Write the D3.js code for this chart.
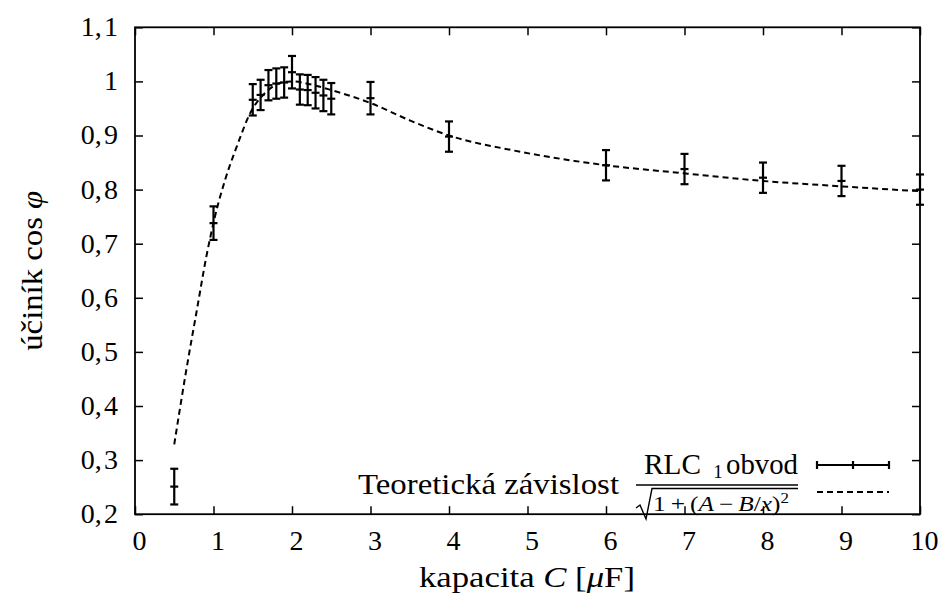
<!DOCTYPE html>
<html>
<head>
<meta charset="utf-8">
<script src="https://cdn.jsdelivr.net/npm/d3@7"></script>
<style>
  body { margin: 0; background: #fff; }
  svg text { font-family: "Liberation Serif", "Times New Roman", serif; fill: #000; }
</style>
</head>
<body>
<svg id="chart" width="945" height="598"></svg>
<script>
// measured points: capacitance [uF], power factor, error
const capacity = [0.5, 1, 1.5, 1.6, 1.7, 1.8, 1.9, 2.0, 2.1, 2.2, 2.3, 2.4, 2.5, 3, 4, 6, 7, 8, 9, 10];
const cosPhi = [0.251, 0.738, 0.966, 0.975, 0.993, 0.996, 0.998, 1.017, 0.985, 0.984, 0.979, 0.974, 0.968, 0.969, 0.898, 0.845, 0.838, 0.822, 0.816, 0.800];
const cosPhiErr = [0.033, 0.031, 0.029, 0.028, 0.028, 0.028, 0.028, 0.030, 0.028, 0.028, 0.029, 0.029, 0.029, 0.030, 0.028, 0.028, 0.028, 0.028, 0.028, 0.028];

// theoretical curve
const curveC = [0.5, 0.64, 0.79, 0.91, 1.02, 1.15, 1.3, 1.47, 1.66, 1.87, 2.0, 2.25, 2.5, 3, 3.5, 4, 4.8, 5.6, 6, 7, 8, 9, 10];
const curveCos = [0.329, 0.455, 0.579, 0.677, 0.751, 0.819, 0.881, 0.942, 0.979, 0.998, 1.0, 0.994, 0.984, 0.960, 0.928, 0.900, 0.873, 0.853, 0.845, 0.830, 0.816, 0.806, 0.797];

const xTicks = [0, 1, 2, 3, 4, 5, 6, 7, 8, 9, 10];
const yTicks = [0.2, 0.3, 0.4, 0.5, 0.6, 0.7, 0.8, 0.9, 1.0, 1.1];
const yTickLabels = ["0,2", "0,3", "0,4", "0,5", "0,6", "0,7", "0,8", "0,9", "1", "1,1"];

const svg = d3.select("#chart");
const plotLeft = 135, plotRight = 920, plotTop = 27.3, plotBottom = 514.2;

const x = d3.scaleLinear().domain([0, 10]).range([plotLeft, plotRight]);
const y = d3.scaleLinear().domain([0.2, 1.1]).range([plotBottom, plotTop]);

const tickFont = 28;

// axes, ticks pointing inwards on all four sides
const gx = svg.append("g").attr("transform", `translate(0,${plotBottom})`)
  .call(d3.axisBottom(x).tickValues(xTicks).tickSize(-8).tickSizeOuter(0).tickPadding(16).tickFormat(d3.format("d")));
const gxTop = svg.append("g").attr("transform", `translate(0,${plotTop})`)
  .call(d3.axisTop(x).tickValues(xTicks).tickSize(-8).tickSizeOuter(0).tickFormat(""));
const gy = svg.append("g").attr("transform", `translate(${plotLeft},0)`)
  .call(d3.axisLeft(y).tickValues(yTicks).tickSize(-8).tickSizeOuter(0).tickPadding(17)
    .tickFormat((d, i) => yTickLabels[i].replace(",", ",\u200a")));
const gyRight = svg.append("g").attr("transform", `translate(${plotRight},0)`)
  .call(d3.axisRight(y).tickValues(yTicks).tickSize(-8).tickSizeOuter(0).tickFormat(""));

[gx, gxTop, gy, gyRight].forEach(g => {
  g.select(".domain").remove();
  g.selectAll(".tick line").attr("stroke", "#000").attr("stroke-width", 1.5);
  g.selectAll(".tick text").style("font-size", tickFont + "px").attr("fill", "#000");
});
gx.selectAll(".tick text").attr("dy", "0.71em").attr("x", 4);
gy.selectAll(".tick text").attr("dy", "0.3em");

svg.append("rect")
  .attr("x", plotLeft).attr("y", plotTop)
  .attr("width", plotRight - plotLeft).attr("height", plotBottom - plotTop)
  .attr("fill", "none").attr("stroke", "#000").attr("stroke-width", 1.8);

// axis titles
svg.append("text")
  .attr("x", 419).attr("y", 587)
  .attr("textLength", 216).attr("lengthAdjust", "spacingAndGlyphs")
  .style("font-size", "30px")
  .html('kapacita <tspan font-style="italic">C</tspan> [<tspan font-style="italic">μ</tspan>F]');

svg.append("text")
  .attr("transform", `translate(42,${(plotTop + plotBottom) / 2}) rotate(-90)`)
  .attr("x", -80).attr("textLength", 160).attr("lengthAdjust", "spacingAndGlyphs")
  .style("font-size", "30px")
  .html('účiník cos <tspan font-style="italic">φ</tspan>');

// theoretical dashed curve
const line = d3.line().x(d => x(d[0])).y(d => y(d[1])).curve(d3.curveMonotoneX);
svg.append("path")
  .datum(d3.zip(curveC, curveCos))
  .attr("d", line)
  .attr("fill", "none").attr("stroke", "#000")
  .attr("stroke-width", 2).attr("stroke-dasharray", "6,4");

// error bars
const points = capacity.map((c, i) => ({ c, v: cosPhi[i], e: cosPhiErr[i] }));
const cap = 4;
const bars = svg.append("g").attr("stroke", "#000").attr("stroke-width", 2.2)
  .selectAll("g").data(points).join("g");
bars.append("line")
  .attr("x1", d => x(d.c)).attr("x2", d => x(d.c))
  .attr("y1", d => y(d.v - d.e)).attr("y2", d => y(d.v + d.e));
bars.append("line")
  .attr("x1", d => x(d.c) - cap).attr("x2", d => x(d.c) + cap)
  .attr("y1", d => y(d.v + d.e)).attr("y2", d => y(d.v + d.e));
bars.append("line")
  .attr("x1", d => x(d.c) - cap).attr("x2", d => x(d.c) + cap)
  .attr("y1", d => y(d.v - d.e)).attr("y2", d => y(d.v - d.e));
bars.append("line")
  .attr("x1", d => x(d.c) - cap).attr("x2", d => x(d.c) + cap)
  .attr("y1", d => y(d.v)).attr("y2", d => y(d.v));

// legend
const leg = svg.append("g");
leg.append("text")
  .attr("x", 644).attr("y", 474)
  .attr("textLength", 57).attr("lengthAdjust", "spacingAndGlyphs")
  .style("font-size", "29px")
  .text("RLC");
leg.append("text")
  .attr("x", 726).attr("y", 474)
  .attr("textLength", 72).attr("lengthAdjust", "spacingAndGlyphs")
  .style("font-size", "29px")
  .text("obvod");
const s1 = leg.append("g").attr("stroke", "#000").attr("stroke-width", 2.2);
s1.append("line").attr("x1", 817).attr("x2", 889).attr("y1", 465).attr("y2", 465);
s1.append("line").attr("x1", 817).attr("x2", 817).attr("y1", 461).attr("y2", 469);
s1.append("line").attr("x1", 889).attr("x2", 889).attr("y1", 461).attr("y2", 469);
s1.append("line").attr("x1", 853).attr("x2", 853).attr("y1", 461).attr("y2", 469);

leg.append("text")
  .attr("x", 358).attr("y", 494)
  .attr("textLength", 261).attr("lengthAdjust", "spacingAndGlyphs")
  .style("font-size", "29px")
  .text("Teoretická závislost");
// fraction 1 / sqrt(1+(A-B/x)^2)
leg.append("text")
  .attr("x", 718).attr("y", 478)
  .attr("text-anchor", "middle").style("font-size", "19px")
  .text("1");
leg.append("line").attr("x1", 636).attr("x2", 798).attr("y1", 485).attr("y2", 485)
  .attr("stroke", "#000").attr("stroke-width", 1.6);
leg.append("path")
  .attr("d", "M636,508 L640,505 L646,519 L652,488.5 L798,488.5")
  .attr("fill", "none").attr("stroke", "#000").attr("stroke-width", 1.4);
leg.append("text")
  .attr("x", 653).attr("y", 511)
  .attr("textLength", 136).attr("lengthAdjust", "spacingAndGlyphs")
  .style("font-size", "21px")
  .html('1\u2009+\u2009(<tspan font-style="italic">A</tspan>\u2009−\u2009<tspan font-style="italic">B</tspan>/<tspan font-style="italic">x</tspan>)<tspan dy="-8" font-size="14px">2</tspan>');
leg.append("line").attr("x1", 817).attr("x2", 889).attr("y1", 492).attr("y2", 492)
  .attr("stroke", "#000").attr("stroke-width", 2).attr("stroke-dasharray", "6,4");
</script>
</body>
</html>
